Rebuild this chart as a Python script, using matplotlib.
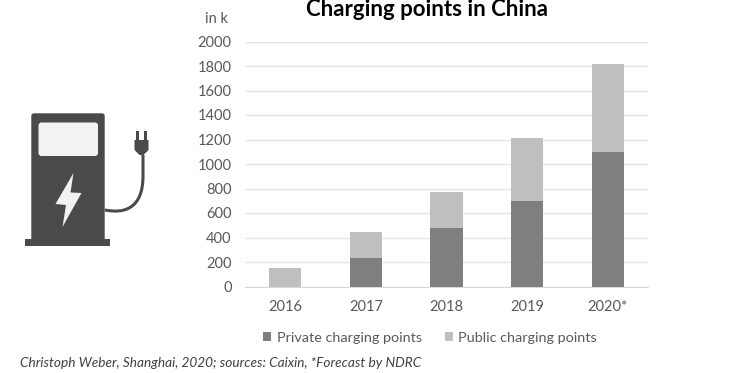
import matplotlib
matplotlib.use('Agg')
import matplotlib.pyplot as plt
from matplotlib.patches import Polygon, FancyBboxPatch, PathPatch, Rectangle
from matplotlib.path import Path
import numpy as np

plt.rcParams['font.family'] = ['Lato', 'DejaVu Sans']

years = ['2016', '2017', '2018', '2019', '2020*']
private_points = [0, 230, 477, 700, 1100]
public_points = [150, 213, 295, 515, 715]
y_ticks = list(range(0, 2001, 200))

W, H = 729, 373
dark = '#7f7f7f'
light = '#bfbfbf'
icon_col = '#4a4a4a'
text_col = '#595959'

fig = plt.figure(figsize=(W / 100, H / 100), dpi=100)

# chart area, in pixels of the reference
left, right, top, bottom = 245, 648, 41.5, 286.5
ax = fig.add_axes([left / W, 1 - bottom / H, (right - left) / W, (bottom - top) / H])
x = np.arange(len(years))
ax.bar(x, private_points, 0.4, color=dark, label='Private charging points', zorder=3)
ax.bar(x, public_points, 0.4, bottom=private_points, color=light, label='Public charging points', zorder=3)
ax.set_xlim(-0.5, len(years) - 0.5)
ax.set_ylim(0, 2000)
ax.set_yticks(y_ticks)
ax.set_xticks(x)
ax.set_xticklabels(years)
ax.tick_params(length=0, labelsize=10.5, labelcolor=text_col)
ax.tick_params(axis='y', pad=9.5)
ax.tick_params(axis='x', pad=9.5)
ax.grid(axis='y', color='#e4e4e4', lw=1, zorder=0)
for s in ['top', 'right', 'left']:
    ax.spines[s].set_visible(False)
ax.spines['bottom'].set_color('#d9d9d9')

leg = fig.legend(loc='center', bbox_to_anchor=(430 / W, 1 - 337.5 / H), ncol=2, frameon=False,
                 fontsize=10.4, labelcolor=text_col, handlelength=0.55, handleheight=0.65,
                 handletextpad=0.4, columnspacing=1.6)

fig.text(427 / W, 1 - 9 / H, 'Charging points in China', ha='center', va='center',
         fontsize=16, fontweight='bold', color='black')
fig.text(216.5 / W, 1 - 19 / H, 'in k', ha='center', va='center', fontsize=10.5, color=text_col)
fig.text(20 / W, 1 - 363 / H, 'Christoph Weber, Shanghai, 2020; sources: Caixin, *Forecast by NDRC',
         ha='left', va='center', fontsize=9.8, style='italic', color='#404040')

# charging station icon, pixel coordinates
ic = fig.add_axes([0, 0, 1, 1], facecolor='none')
ic.set_xlim(0, W)
ic.set_ylim(H, 0)
ic.axis('off')
ic.add_patch(FancyBboxPatch((32, 114), 72, 130, boxstyle='round,pad=0,rounding_size=2', fc=icon_col, ec=icon_col, lw=1))
ic.add_patch(Rectangle((25.5, 239), 85, 7, fc=icon_col, ec='none'))
ic.add_patch(FancyBboxPatch((38.5, 122.5), 59.5, 33.5, boxstyle='round,pad=0,rounding_size=3', fc='#f2f2f2', ec='none'))
ic.add_patch(Polygon([(73.5, 173), (55.5, 204), (66, 205), (62.5, 227), (81.5, 193), (70.5, 192.5)], fc='#f2f2f2', ec='none'))
cable = Path([(105, 210), (125, 214), (143, 208), (143, 176), (143, 155)],
             [Path.MOVETO, Path.CURVE4, Path.CURVE4, Path.CURVE4, Path.LINETO])
ic.add_patch(PathPatch(cable, fc='none', ec=icon_col, lw=2.2))
ic.add_patch(Polygon([(134.5, 140), (148.5, 140), (148.5, 150), (143.5, 155), (139.5, 155), (134.5, 150)], fc=icon_col, ec='none'))
ic.add_patch(Rectangle((136.5, 131), 2.8, 10, fc=icon_col, ec='none'))
ic.add_patch(Rectangle((144.5, 131), 2.8, 10, fc=icon_col, ec='none'))

fig.savefig('out.png', dpi=100)
